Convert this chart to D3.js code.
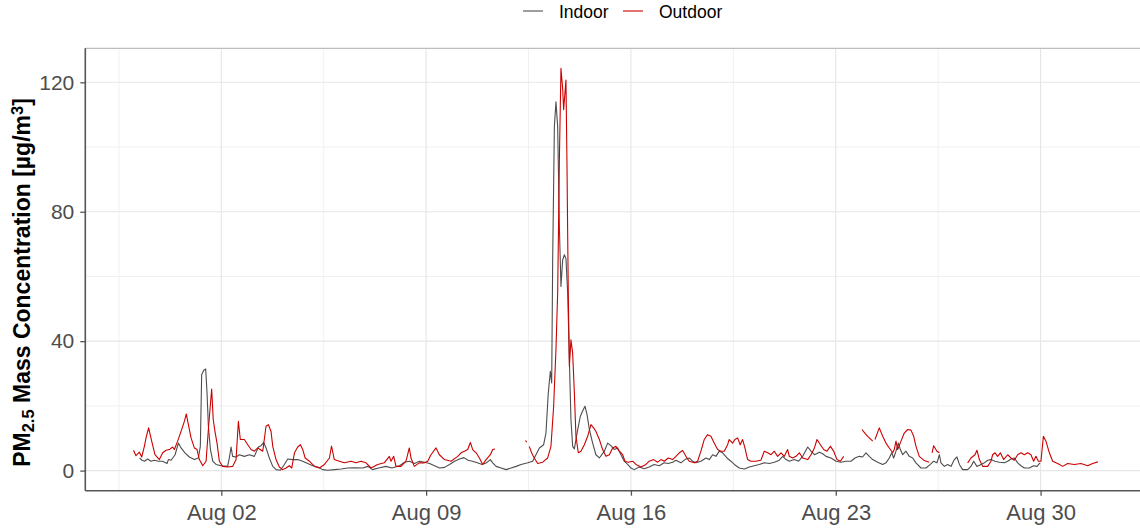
<!DOCTYPE html>
<html>
<head>
<meta charset="utf-8">
<script src="https://cdn.jsdelivr.net/npm/d3@7"></script>
<style>
  html, body { margin: 0; padding: 0; background: #fff; }
  svg { display: block; font-family: "Liberation Sans", Arial, sans-serif; }
</style>
</head>
<body>
<svg id="chart" width="1140" height="529"></svg>
<script>
// Hourly PM2.5 record, hours counted from the start of the campaign.
const startTime = "2021-07-30T00:00:00Z";
const seriesNames = ["Indoor", "Outdoor"];
const seriesColors = ["#4d4d4d", "#cc0000"];

const indoorHours = [
  5, 7, 9, 11.6, 14.4, 17.1, 20.4, 23.9, 27.5, 28.6, 30.8, 34.1, 36.8, 39, 42.2, 45.8, 49.9, 53.2, 54.8,
  55.9, 57.6, 59.2, 60.3, 61.4, 63.1, 65, 67.7, 71.8, 77.2, 78.6, 80, 81.3, 84.1, 86.8, 90.9, 95, 99.1,
  102.4, 104.6, 106.8, 108.7, 111.4, 114.2, 116.9, 120.5, 123.7, 126.5, 130.6, 134.7, 138.8, 142.9, 147,
  151.1, 155.2, 159.3, 164.8, 170.3, 175.7, 181.2, 188, 192.2, 196, 201, 207, 212, 218.2, 222.3, 226.4,
  230.5, 234.6, 238.7, 242.8, 246.9, 251, 255.1, 259.2, 263.3, 267.4, 271, 274.5, 278, 282, 286, 289.5,
  292.7, 294.6, 297.4, 301.5, 305.6, 309.7, 313.8, 317.9, 323.4, 327.4, 330.1, 332.9, 336.4, 338.3,
  340.2, 341.9, 343, 343.8, 345.2, 346.5, 347.9, 349.3, 350.6, 352, 353.4, 354.7, 356.1, 357.5, 358.8,
  360.2, 361.6, 363.8, 366.5, 368.5, 370.3, 372, 373.9, 376.6, 379.3, 382.1, 386.2, 388.9, 391.6, 394.4,
  397.1, 399.8, 402.5, 405.3, 408, 410.7, 414.8, 418.9, 423, 427.1, 431.2, 435.3, 438.6, 442.2, 444.9,
  449, 452.3, 455.8, 458.6, 461.3, 465.4, 469.5, 472.3, 475, 477.7, 480.5, 483.2, 486.8, 490, 492.8,
  496.9, 501, 505.1, 509.2, 513.3, 517.4, 521.5, 525.6, 529.7, 532.5, 535.2, 537.9, 542, 545.5, 548.9,
  553, 555.7, 558.5, 562.6, 565.3, 568, 572.1, 576.2, 580.3, 584.4, 588.5, 591.8, 595.3, 598, 600.8,
  603.5, 606.3, 610.4, 614.5, 617.2, 619.9, 621.9, 623.5, 625.4, 627.3, 629, 630.9, 633.6, 636.3, 639.1,
  641.8, 645.9, 650, 653.6, 656.3, 659, 661, 662.3, 665.1, 667.8, 670.5, 673.3, 675.4, 677.4, 680.1,
  684.2, 686.9, 689.1, 691.8, 695.1, 697.9, 700.6, 703.3, 706.6, 710.2, 714.3, 717, 719.7, 722.5, 725.2,
  727.9, 730.7, 734.8, 738.3, 741.1, 743.5
];
const indoorPM = [
  3.9, 3.2, 2.9, 3.6, 2.9, 3.2, 2.9, 2.9, 2.2, 3.4, 3.2, 4.9, 8.5, 7, 5.5, 4.2, 3.4, 3.9, 7.5,
  29.6, 31, 31.4, 24, 13.7, 6.5, 2.9, 1.9, 1.5, 1.3, 3.9, 7.3, 4.4, 4.2, 4.9, 4.4, 4.9, 4.4,
  7.3, 7.7, 8.7, 7, 3.9, 1.3, 0.3, 0.1, 1.9, 3.6, 3.4, 3.4, 2.9, 2.2, 1.5,
  1.1, 0.3, 0.1, 0.3, 0.5, 0.8, 0.9, 0.8, 1.3, 0.3, 0.8, 1.3, 0.8, 1.5, 2.6, 2.9,
  2.2, 2.9, 2.6, 2.2, 1.5, 0.8, 1.0, 1.9, 2.9, 3.6, 4.0, 3.2, 2.9, 2.4, 1.9, 2.4,
  3.4, 2.4, 1.3, 0.8, 0.3, 0.8, 1.3, 1.9, 2.4, 2.9, 4.9, 7, 8, 11.6,
  24, 30.7, 27.1, 65.1, 106.3, 114, 106.3, 75.4, 56.9, 65.1, 66.7, 65.5, 54.9, 34.3, 15.7,
  7.5, 6.7, 11.6, 16.8, 18.5, 19.9, 17.3, 12.7, 8.5, 4.9, 3.9, 6, 8.5, 7.7, 6.5,
  7, 4.9, 2.9, 1.9, 0.8, 0.3, 1.1, 0.6, 1.1, 1.9, 1.5, 2.4, 2.2, 2.6, 3.2,
  2.4, 3.4, 3.9, 2.9, 2.4, 2.9, 3.9, 3.4, 4.9, 4.4, 6, 5.5, 3.9, 2.9, 1.9,
  0.8, 0.5, 1.1, 1.5, 1.9, 2.4, 2.2, 2.6, 3.2, 4.4, 3.4, 2.9, 3.4, 2.9, 4.4,
  7.3, 6, 4.9, 5.7, 5.2, 4.4, 3.9, 2.9, 2.6, 2.9, 2.9, 3.9, 4.4, 4.2, 5.5,
  4.4, 3.4, 2.6, 1.9, 2.4, 3.9, 5.5, 3.9, 6, 8.5, 6.5, 4.9, 6, 4.4, 3.9,
  2.4, 0.8, 0.8, 1.9, 2.9, 2.4, 4.9, 2.4, 1.3, 1.9, 1.3, 3.4, 4.2, 1.9, 0.3,
  0.3, 1.3, 2.9, 1.3, 1.9, 2.4, 3.2, 3.4, 2.9, 2.6, 2.4, 2.9, 3.6, 3.9, 2.4,
  1.5, 0.8, 0.8, 1.5, 1.3, 2.4
];

// null entries mark hours with no outdoor reading
const outdoorHours = [
  0, 2, 4.8, 6.7, 8.9, 10.5, 12.4, 14.9, 17.6, 21.2, 23.9, 26.7, 29.4, 32.1, 33.5, 36.2, 39, 41.7, 43.3,
  45, 47.2, 49.9, 52.1, 54, 56.8, 59.5, 61.6, 64.1, 65.4, 66.8, 68.5, 70.4, 73.1, 77.2, 81.3, 84.1, 86,
  87.6, 90.9, 93.7, 96.4, 99.1, 101.9, 106, 108.7, 110.6, 112.8, 114.2, 116.9, 119.6, 122.4, 125.1, 127.8,
  129.8, 132, 134.7, 136.9, 138.8, 140.8, 144.3, 148.4, 152.5, 156.6, 160.7, 162.4, 164.7, 168.8, 172.9,
  178.4, 182.5, 186.6, 190.7, 194.8, 200.3, 205.7, 209.8, 211.2, 213.4, 215.3, 219.4, 223.5, 226.2, 227.6,
  230.3, 234.4, 238.5, 241.3, 244, 248.1, 250.9, 255, 260.4, 265.9, 268.7, 271.4, 274.1, 276.3, 278.2,
  281, 283.7, 286.4, 289.2, 292.7, 294.6, 296.5, 310,
  321.5, 322.5, 323.5,
  324.6, 326.5, 328.7, 331.5, 335.6, 339.7, 342.4, 344.6, 346.5, 347.9, 349.3, 350.6, 352, 352.8, 354.7,
  355.5, 356.6, 357.5, 358.8, 360.2, 361.6, 362.9, 364.8, 367, 369.8, 372.5, 375.2, 377.4, 379.3, 382.1,
  384.8, 387.5, 390.3, 393, 395.7, 398.5, 401.2, 403.1, 405.8, 409.4, 412.1, 416.2, 420.3, 423, 426.6,
  429.9, 432.6, 435.3, 438.6, 442.2, 444.9, 447.7, 450.4, 453.1, 455.8, 460, 462.7, 465.4, 468.1, 470.9,
  473.6, 476.3, 479.1, 481.8, 484.5, 487.3, 488.6, 491.4, 493.3, 495.5, 497.6, 499.6, 501.5, 503.7, 506.4,
  510.5, 514.6, 517.4, 520.1, 522.9, 525.6, 528.3, 531.1, 533.8, 536.5, 537.9, 540.6, 543.4, 546.1, 548.9,
  553, 555.7, 558.5, 560.6, 563.4, 566.1, 568.8, 571.6, 574.3, 577, 579.8, 582.5, 590,
  597.5, 600, 602.2, 606.3, 607.2,
  608.2, 611.7, 614.5, 617.2, 619.9, 622.7, 624, 625.4, 626.8, 629.5, 632.2, 635, 637.7, 639.9, 641.8,
  644.5, 648.7, 652.7, 654,
  655, 656.3, 659, 661, 670,
  684.2, 686.9, 690.2, 691.8, 693.8, 696.5, 700.6, 703.3, 704.7, 706.6, 708.8, 711, 713.7, 717, 719.7,
  722.5, 725.2, 727.9, 730.7, 733.4, 736.1, 738.3, 740.2, 742.2, 744.3, 746.3, 748.4, 751.2, 753.9, 758,
  762.1, 766.2, 771.7, 777.1, 782.6, 786.7, 791
];
const outdoorPM = [
  6.3, 4.6, 5.7, 4.2, 7.5, 10.5, 13.2, 9.1, 4.9, 3.4, 5.5, 6.3, 6.5, 7.3, 6.5, 9.1, 12.1, 15.2, 17.5,
  14.2, 10.1, 7, 6.5, 3.4, 1.5, 2.9, 13.7, 25.2, 15.7, 12.1, 8.5, 2.9, 1.3, 1.1, 1.3, 3.4, 15.2,
  9.6, 9.6, 8, 6.5, 6, 7, 6, 13.7, 14.2, 12.1, 7.5, 3.4, 1.1, 0.3, 0.8, 1.5,
  0.8, 5.5, 7.3, 8, 6.5, 3.9, 2.9, 1.3, 0.8, 1.9, 3.9, 7.6, 3.4, 2.9, 2.4,
  2.9, 2.4, 2.9, 2.4, 0.8, 1.9, 2.4, 4.4, 2.9, 4.4, 1.3, 1.3, 2.9, 7, 3.9,
  1.3, 2.4, 2.4, 2.9, 4.9, 7, 4.9, 3.4, 2.9, 4.4, 5.5, 6, 6.5, 8.7, 6.5,
  5.5, 3.9, 1.9, 3.4, 4.9, 6.5, 6.7, null,
  9.3, 8.8, null,
  7.5, 5.5, 3.9, 2.2, 2.6, 3.9, 7.5, 19.9, 37.4, 54.9, 96, 124.3, 118, 111.5, 120.7,
  96, 54.9, 32.2, 40.4, 36.3, 24, 10.6, 5.5, 6, 8, 10.6, 14.2, 13.2, 12.1, 9.6,
  6.5, 4.4, 4.9, 7, 7.5, 6, 4.9, 2.9, 2.6, 2.9, 1.9, 1.1, 1.9, 2.9, 3.4,
  2.6, 3.4, 2.9, 3.9, 3.4, 4.4, 5.5, 6.2, 4.4, 2.9, 2.4, 2.9, 6, 9.6, 11.1,
  10.6, 8.5, 6.5, 6, 6, 8, 9.6, 8.5, 9.6, 10.1, 8, 9.6, 7, 3.4, 2.9,
  2.9, 3.2, 6, 5.5, 4.9, 6, 4.4, 5.5, 4.4, 6.5, 4.4, 3.9, 4.4, 5.5, 3.9,
  3.4, 4.9, 7, 9.6, 8, 6.5, 6, 7.5, 6, 3.4, 2.9, 4.4, null,
  12.7, 11.5, 10.6, 9.1, null,
  9.6, 13.2, 10.6, 8.5, 7, 5.5, 6.5, 9.1, 6.5, 9.1, 11.6, 12.7, 12.5, 10.6, 7.5,
  4.4, 3.1, 2.6, null,
  5.5, 7.7, 6, 5.5, null,
  2.4, 3.9, 4.9, 6.3, 3.4, 1.3, 1.3, 2.9, 4.9, 5.5, 4.4, 5.5, 3.4, 4.9, 3.9,
  3.2, 4.9, 5.5, 4.9, 5.5, 4.9, 2.9, 4.4, 2.9, 2.9, 10.6, 9.1, 5.5, 2.9, 2.2,
  1.3, 2.2, 1.9, 2.2, 1.5, 2.2, 2.7
];

const yMajorTicks = [0, 40, 80, 120];
const yMinorTicks = [20, 60, 100];
const xMajorTickDates = ["2021-08-02", "2021-08-09", "2021-08-16", "2021-08-23", "2021-08-30"];

// ---------------------------------------------------------------------------
const svg = d3.select("#chart");
const panel = { left: 85.3, top: 48.3, right: 1146.1, bottom: 490.7 };

const t0 = new Date(startTime).getTime();
const HOUR = 3600e3;
const toDate = h => new Date(t0 + h * HOUR);

function buildSeries(hours, values) {
  return hours.map((h, i) => ({ date: toDate(h), value: values[i] }));
}
const series = [
  { name: seriesNames[0], color: seriesColors[0], data: buildSeries(indoorHours, indoorPM) },
  { name: seriesNames[1], color: seriesColors[1], data: buildSeries(outdoorHours, outdoorPM) }
];

// 5% expansion around the data range on both axes
const allDates = series.flatMap(s => s.data.filter(d => d.value != null).map(d => d.date.getTime()));
const allValues = series.flatMap(s => s.data.filter(d => d.value != null).map(d => d.value));
const [dMin, dMax] = d3.extent(allDates);
const [vMin, vMax] = [Math.min(0, d3.min(allValues)), d3.max(allValues)];
const dPad = (dMax - dMin) * 0.05, vPad = (vMax - vMin) * 0.05;

const x = d3.scaleUtc()
  .domain([new Date(dMin - dPad), new Date(dMax + dPad)])
  .range([panel.left, panel.right]);
const y = d3.scaleLinear()
  .domain([vMin - vPad, vMax + vPad])
  .range([panel.bottom, panel.top]);

const xMajor = xMajorTickDates.map(s => new Date(s + "T00:00:00Z"));
const xMinor = [];
{
  const step = xMajor[1] - xMajor[0];
  const first = xMajor[0].getTime() - step / 2;
  for (let t = first; t <= x.domain()[1].getTime(); t += step) {
    if (t >= x.domain()[0].getTime()) xMinor.push(new Date(t));
  }
}

const plot = svg.append("g");

svg.append("defs").append("clipPath").attr("id", "panel-clip")
  .append("rect")
  .attr("x", panel.left).attr("y", panel.top)
  .attr("width", panel.right - panel.left).attr("height", panel.bottom - panel.top);

// grid
const grid = plot.append("g").attr("clip-path", "url(#panel-clip)");
grid.selectAll("line.ymin").data(yMinorTicks).join("line")
  .attr("x1", panel.left).attr("x2", panel.right)
  .attr("y1", d => y(d)).attr("y2", d => y(d))
  .attr("stroke", "#f0f0f0").attr("stroke-width", 1);
grid.selectAll("line.xmin").data(xMinor).join("line")
  .attr("x1", d => x(d)).attr("x2", d => x(d))
  .attr("y1", panel.top).attr("y2", panel.bottom)
  .attr("stroke", "#f0f0f0").attr("stroke-width", 1);
grid.selectAll("line.ymaj").data(yMajorTicks).join("line")
  .attr("x1", panel.left).attr("x2", panel.right)
  .attr("y1", d => y(d)).attr("y2", d => y(d))
  .attr("stroke", "#e6e6e6").attr("stroke-width", 1.1);
grid.selectAll("line.xmaj").data(xMajor).join("line")
  .attr("x1", d => x(d)).attr("x2", d => x(d))
  .attr("y1", panel.top).attr("y2", panel.bottom)
  .attr("stroke", "#e6e6e6").attr("stroke-width", 1.1);

// panel border (top / right)
plot.append("line")
  .attr("x1", panel.left).attr("x2", panel.right)
  .attr("y1", panel.top).attr("y2", panel.top)
  .attr("stroke", "#bdbdbd").attr("stroke-width", 1.2);
plot.append("line")
  .attr("x1", panel.right).attr("x2", panel.right)
  .attr("y1", panel.top).attr("y2", panel.bottom)
  .attr("stroke", "#bdbdbd").attr("stroke-width", 1.2);

// series lines
const line = d3.line()
  .defined(d => d.value != null)
  .x(d => x(d.date))
  .y(d => y(d.value));
const lines = plot.append("g").attr("clip-path", "url(#panel-clip)");
lines.selectAll("path").data(series).join("path")
  .attr("d", s => line(s.data))
  .attr("fill", "none")
  .attr("stroke", s => s.color)
  .attr("stroke-width", 1.1)
  .attr("stroke-linejoin", "round");

// axes
const axisColor = "#555555";
const tickText = "#4d4d4d";

const yAxis = plot.append("g")
  .attr("transform", `translate(${panel.left},0)`)
  .call(d3.axisLeft(y).tickValues(yMajorTicks).tickSize(5).tickPadding(6).tickFormat(d3.format("d")));
const xAxis = plot.append("g")
  .attr("transform", `translate(0,${panel.bottom})`)
  .call(d3.axisBottom(x).tickValues(xMajor).tickSize(5).tickPadding(9).tickFormat(d3.utcFormat("%b %d")));

[yAxis, xAxis].forEach(ax => {
  ax.select(".domain").attr("stroke", axisColor).attr("stroke-width", 1.6);
  ax.selectAll(".tick line").attr("stroke", axisColor).attr("stroke-width", 1.3);
  ax.selectAll(".tick text")
    .attr("fill", tickText)
    .style("font-family", "'Liberation Sans', Arial, sans-serif");
});
yAxis.selectAll(".tick text").style("font-size", "21px");
xAxis.selectAll(".tick text").style("font-size", "22px");
yAxis.select(".domain").attr("d", `M0,${panel.top}V${panel.bottom}`);
xAxis.select(".domain").attr("d", `M${panel.left},0H${panel.right}`);

// y-axis title with sub/superscripts
const yTitle = svg.append("text")
  .attr("transform", `translate(29.5,282.5) rotate(-90)`)
  .attr("text-anchor", "middle")
  .style("font-size", "23px")
  .style("font-weight", "bold")
  .attr("fill", "#000");
yTitle.append("tspan").text("PM");
yTitle.append("tspan").text("2.5").attr("baseline-shift", "-25%").style("font-size", "16.5px");
yTitle.append("tspan").text(" Mass Concentration [µg/m");
yTitle.append("tspan").text("3").attr("baseline-shift", "40%").style("font-size", "16.5px");
yTitle.append("tspan").text("]");

// legend
const legend = svg.append("g").attr("transform", "translate(523,0)");
const legendItems = [
  { name: seriesNames[0], color: seriesColors[0], x: 0 },
  { name: seriesNames[1], color: seriesColors[1], x: 100 }
];
const li = legend.selectAll("g").data(legendItems).join("g")
  .attr("transform", d => `translate(${d.x},0)`);
li.append("line")
  .attr("x1", 0).attr("x2", 20).attr("y1", 11).attr("y2", 11)
  .attr("stroke", d => d.color).attr("stroke-width", 1.1);
li.append("text")
  .attr("x", 36).attr("y", 18)
  .style("font-size", "17.5px")
  .attr("fill", "#000")
  .text(d => d.name);
</script>
</body>
</html>
